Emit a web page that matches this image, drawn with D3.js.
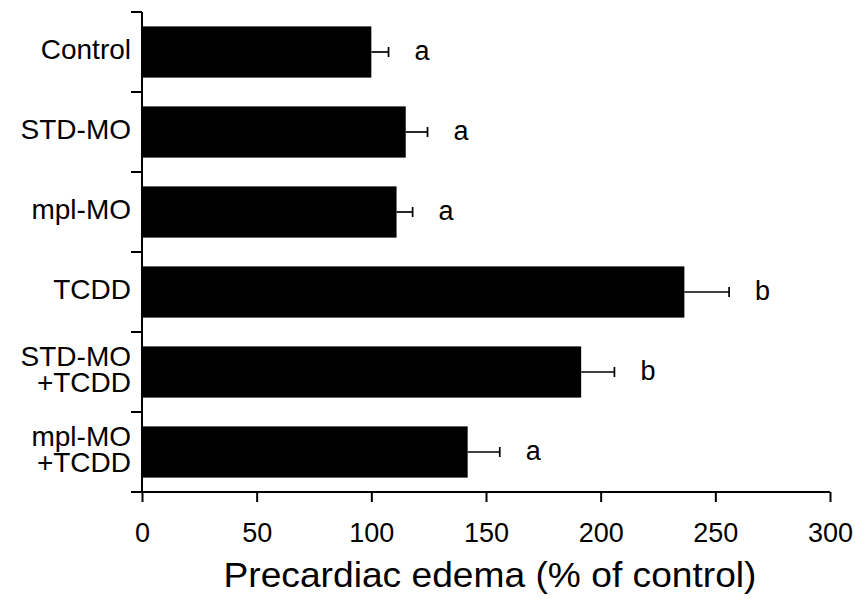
<!DOCTYPE html>
<html>
<head>
<meta charset="utf-8">
<script src="https://cdn.jsdelivr.net/npm/d3@7"></script>
<style>
  html, body { margin: 0; padding: 0; background: #fff; }
  svg { display: block; }
  text { font-family: "Liberation Sans", Arial, sans-serif; fill: #000; }
</style>
</head>
<body>
<svg id="chart" width="855" height="599"></svg>
<script>
// Group labels (line-broken where the label wraps)
const groups = [["Control"], ["STD-MO"], ["mpl-MO"], ["TCDD"], ["STD-MO", "+TCDD"], ["mpl-MO", "+TCDD"]];
// Mean precardiac edema, % of control
const means = [100, 115, 111, 236.5, 191.5, 142];
// Standard error (drawn one-sided)
const errors = [7.5, 9.5, 7, 19.5, 14.5, 14];
// Significance letters
const letters = ["a", "a", "a", "b", "b", "a"];
// X-axis tick values
const xTicks = [0, 50, 100, 150, 200, 250, 300];

const svg = d3.select("#chart");
const plotLeft = 142, plotRight = 830, plotTop = 12, plotBottom = 492;

const x = d3.scaleLinear().domain([0, 300]).range([plotLeft, plotRight]);
const y = d3.scaleBand().domain(d3.range(groups.length)).range([plotTop, plotBottom])
  .paddingInner(0.36).paddingOuter(0.18);
const band = d3.scaleBand().domain(d3.range(groups.length)).range([plotTop, plotBottom]);

// Bars
svg.append("g").selectAll("rect").data(means).join("rect")
  .attr("x", x(0))
  .attr("y", (d, i) => y(i))
  .attr("width", d => x(d) - x(0))
  .attr("height", y.bandwidth())
  .attr("fill", "#000");

// Error bars
const eb = svg.append("g").attr("stroke", "#000").attr("stroke-width", 1.7);
means.forEach((m, i) => {
  const cy = y(i) + y.bandwidth() / 2;
  eb.append("line").attr("x1", x(m)).attr("x2", x(m + errors[i])).attr("y1", cy).attr("y2", cy);
  eb.append("line").attr("x1", x(m + errors[i])).attr("x2", x(m + errors[i]))
    .attr("y1", cy - 5).attr("y2", cy + 5);
});

// Significance letters
svg.append("g").selectAll("text").data(letters).join("text")
  .attr("x", (d, i) => x(means[i] + errors[i]) + 26)
  .attr("y", (d, i) => y(i) + y.bandwidth() / 2 + 8)
  .attr("font-size", 27)
  .text(d => d);

// Y axis: line with ticks at group boundaries
const ya = svg.append("g").attr("stroke", "#000").attr("stroke-width", 2);
ya.append("line").attr("x1", plotLeft).attr("x2", plotLeft).attr("y1", plotTop).attr("y2", plotBottom);
d3.range(groups.length + 1).forEach(k => {
  const yy = k < groups.length ? band(k) : plotBottom;
  ya.append("line").attr("x1", plotLeft - 11).attr("x2", plotLeft).attr("y1", yy).attr("y2", yy);
});

// Group labels, one text per line
const labelSize = 28, lineGap = 26;
groups.forEach((lines, i) => {
  const base = band(i) + band.bandwidth() / 2 + 7 - (lines.length - 1) * lineGap / 2;
  lines.forEach((s, j) => {
    svg.append("text")
      .attr("x", 131)
      .attr("y", base + j * lineGap)
      .attr("text-anchor", "end")
      .attr("font-size", labelSize)
      .text(s);
  });
});

// X axis
const xa = svg.append("g").attr("transform", `translate(0,${plotBottom})`)
  .call(d3.axisBottom(x).tickValues(xTicks).tickSize(10).tickSizeOuter(0).tickPadding(21));
xa.select(".domain").attr("stroke-width", 2).attr("d", `M${plotLeft - 11},0H${plotRight}`);
xa.selectAll(".tick line").attr("stroke-width", 2);
xa.selectAll(".tick text").attr("font-size", 27)
  .attr("font-family", "'Liberation Sans', Arial, sans-serif");

// X axis title
svg.append("text")
  .attr("x", (plotLeft + plotRight) / 2 + 4)
  .attr("y", 587)
  .attr("text-anchor", "middle")
  .attr("font-size", 35)
  .attr("textLength", 533)
  .attr("lengthAdjust", "spacingAndGlyphs")
  .text("Precardiac edema (% of control)");
</script>
</body>
</html>
